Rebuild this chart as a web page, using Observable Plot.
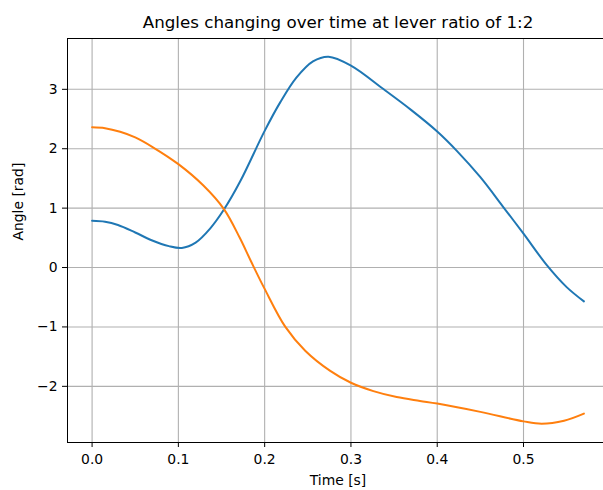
<!DOCTYPE html>
<html>
<head>
<meta charset="utf-8">
<script src="https://cdn.jsdelivr.net/npm/d3@7"></script>
<script src="https://cdn.jsdelivr.net/npm/@observablehq/plot@0.6"></script>
<style>
  html, body { margin: 0; padding: 0; background: #fff; overflow: hidden; }
</style>
</head>
<body>
<div id="chart"></div>
<script>
const titleText = "Angles changing over time at lever ratio of 1:2";
const xLabel = "Time [s]";
const yLabel = "Angle [rad]";

const xTicks = [0, 0.1, 0.2, 0.3, 0.4, 0.5];
const yTicks = [-2, -1, 0, 1, 2, 3];

// Series 1 (blue)
const timeA = [0, 0.015, 0.03, 0.05, 0.069, 0.089, 0.104, 0.12, 0.137, 0.153, 0.172, 0.2, 0.218, 0.237, 0.256, 0.274, 0.3, 0.338, 0.37, 0.4, 0.423, 0.45, 0.477, 0.5, 0.527, 0.55, 0.57];
const angleA = [0.786, 0.77, 0.715, 0.59, 0.46, 0.36, 0.33, 0.42, 0.66, 0.98, 1.46, 2.30, 2.78, 3.20, 3.47, 3.55, 3.40, 3.00, 2.65, 2.29, 1.96, 1.52, 1.01, 0.57, 0.04, -0.33, -0.57];

// Series 2 (orange)
const timeB = [0, 0.015, 0.0325, 0.05, 0.071, 0.1, 0.129, 0.153, 0.171, 0.184, 0.2, 0.224, 0.247, 0.276, 0.3, 0.326, 0.353, 0.38, 0.4, 0.45, 0.5, 0.521, 0.547, 0.57];
const angleB = [2.36, 2.345, 2.285, 2.19, 2.02, 1.74, 1.38, 0.98, 0.505, 0.11, -0.36, -1.0, -1.40, -1.74, -1.94, -2.08, -2.18, -2.245, -2.29, -2.43, -2.59, -2.63, -2.58, -2.46];

const seriesA = timeA.map((t, i) => ({t, v: angleA[i]}));
const seriesB = timeB.map((t, i) => ({t, v: angleB[i]}));

const fmtY = d3.format("d");
const fmtX = d3.format(".1f");

const chart = Plot.plot({
  width: 603,
  height: 490,
  marginLeft: 67,
  marginRight: -5,
  marginTop: 38,
  marginBottom: 48,
  style: {fontFamily: "'DejaVu Sans', sans-serif", fontSize: "13.9px", color: "black", background: "white", overflow: "hidden"},
  x: {domain: [-0.0285, 0.5985]},
  y: {domain: [-2.9455, 3.8555]},
  marks: [
    Plot.gridX(xTicks, {stroke: "#b0b0b0", strokeOpacity: 1, strokeWidth: 1.1}),
    Plot.gridY(yTicks, {stroke: "#b0b0b0", strokeOpacity: 1, strokeWidth: 1.1}),
    Plot.line(seriesA, {x: "t", y: "v", stroke: "#1f77b4", strokeWidth: 2, curve: "catmull-rom"}),
    Plot.line(seriesB, {x: "t", y: "v", stroke: "#ff7f0e", strokeWidth: 2, curve: "catmull-rom"}),
    Plot.frame({stroke: "black", strokeWidth: 1}),
    Plot.axisX(xTicks, {tickFormat: fmtX, tickSize: 5, tickPadding: 7, label: null, fontSize: 13.9}),
    Plot.axisY(yTicks, {tickFormat: fmtY, tickSize: 5, tickPadding: 5, label: null, fontSize: 13.9}),
    Plot.text([titleText], {frameAnchor: "top", dy: -16, fontSize: 16.7, lineAnchor: "middle"}),
    Plot.text([xLabel], {frameAnchor: "bottom", dy: 38, fontSize: 13.9, lineAnchor: "middle"}),
    Plot.text([yLabel], {frameAnchor: "left", dx: -49, rotate: -90, fontSize: 13.9, lineAnchor: "middle"})
  ]
});
document.getElementById("chart").appendChild(chart);
</script>
</body>
</html>
